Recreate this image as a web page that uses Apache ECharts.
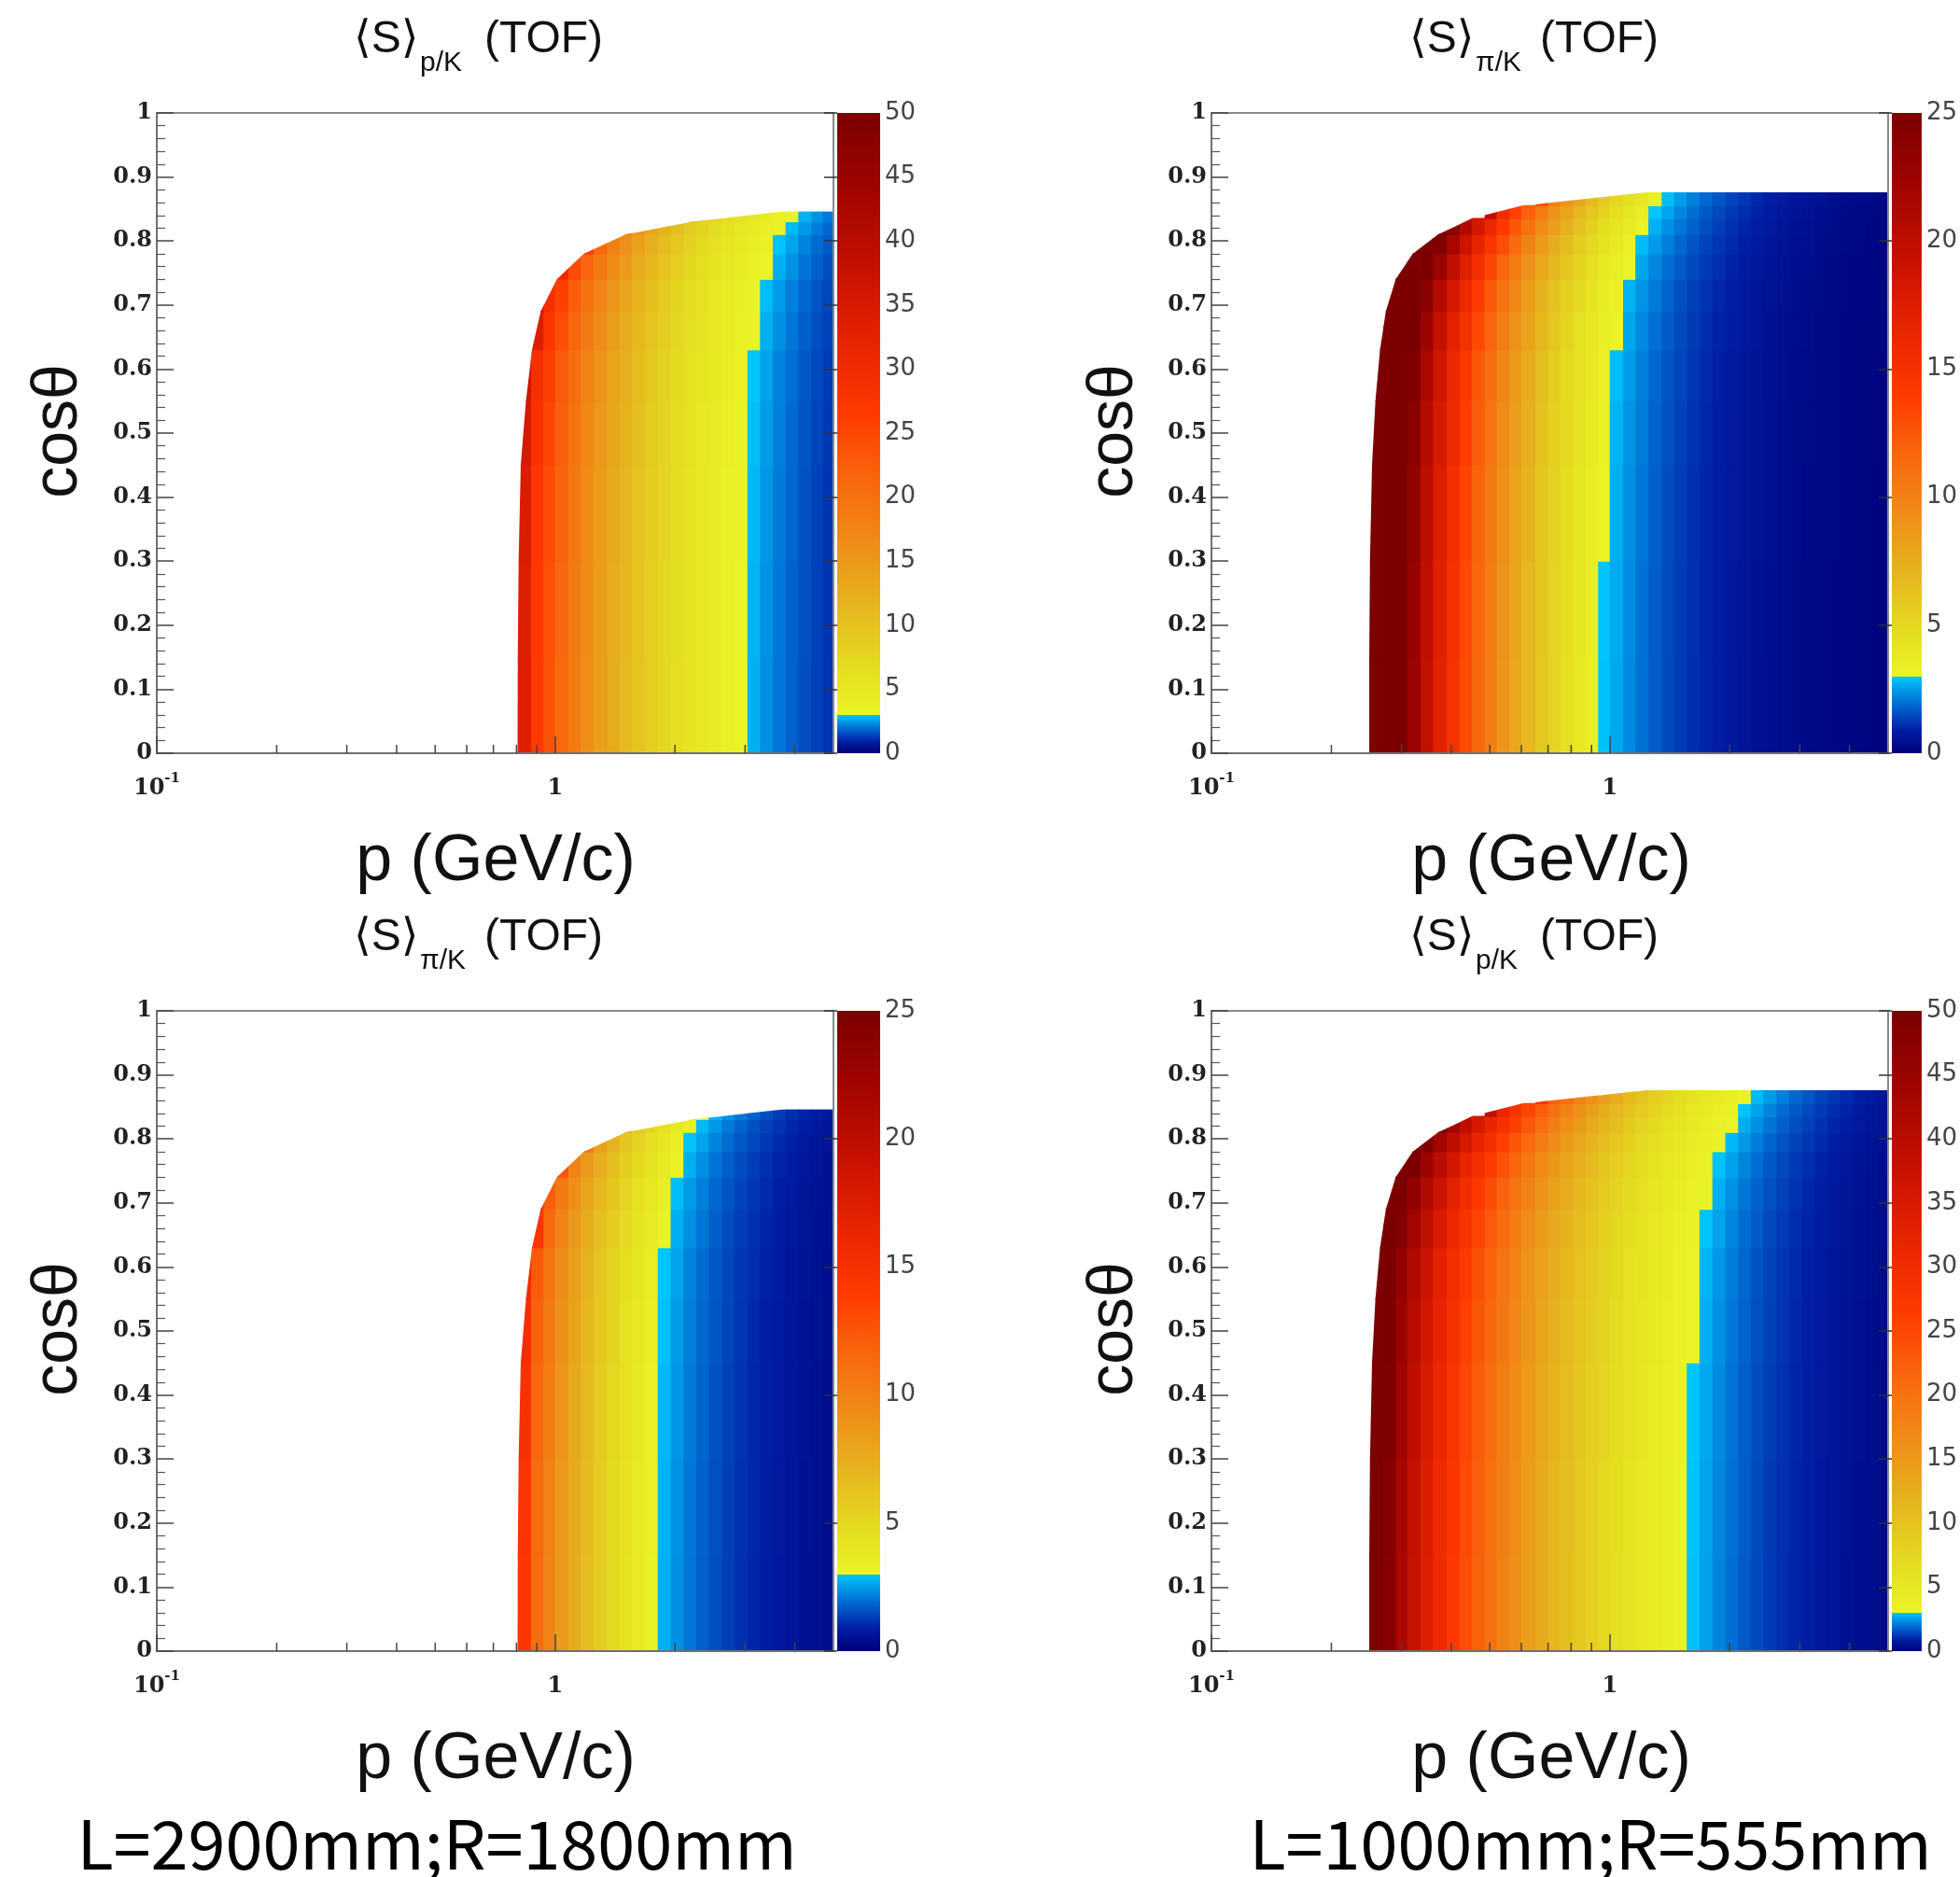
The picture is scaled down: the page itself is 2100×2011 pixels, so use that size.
<!DOCTYPE html>
<html><head><meta charset="utf-8">
<script src="https://cdn.jsdelivr.net/npm/echarts@6/dist/echarts.min.js"></script>
<style>html,body{margin:0;padding:0;background:#fff}#c{width:2100px;height:2011px}</style>
</head><body><div id="c"></div>
<script>
// ---- bin edges (p in GeV/c, cos theta) ----
const pEdgesL = [0.805,0.87,0.935,1.0,1.08,1.16,1.25,1.35,1.45,1.56,1.68,1.81,1.95,2.1,2.26,2.43,2.62,2.82,3.04,3.27,3.52,3.79,4.08,4.4,4.7,5.0];
const pEdgesR = [0.249,0.27,0.29,0.31,0.335,0.36,0.39,0.42,0.45,0.485,0.52,0.56,0.6,0.65,0.7,0.75,0.81,0.87,0.935,1.0,1.08,1.16,1.25,1.35,1.45,1.56,1.68,1.81,1.95,2.1,2.26,2.43,2.62,2.82,3.04,3.27,3.52,3.79,4.08,4.4,4.7,5.0];
const cosEdgesL = [0,0.15,0.3,0.45,0.55,0.63,0.69,0.74,0.78,0.81,0.83,0.845];
const cosEdgesR = [0,0.15,0.3,0.45,0.55,0.63,0.69,0.74,0.78,0.81,0.835,0.855,0.875];
// acceptance boundary: lowest p reaching the TOF, read at each cos edge
const edgePL = [0.805,0.806,0.81,0.82,0.845,0.875,0.92,1.01,1.18,1.5,2.2,3.6];
const edgePR = [0.249,0.249,0.25,0.253,0.258,0.265,0.274,0.29,0.32,0.37,0.45,0.6,1.2];

// ---- separation power <S>, rows = cos bins (bottom->top), cols = p bins ----
const S_TL = [
[33.6,26.6,23.8,21.1,18.6,16.4,14.4,12.6,11.1,9.7,8.5,7.4,6.4,5.6,4.85,4.2,3.6,3.16,2.74,2.37,2.05,1.78,1.53,1.33,1.17],
[33.9,26.9,24.0,21.3,18.8,16.6,14.5,12.7,11.2,9.8,8.5,7.4,6.5,5.6,4.9,4.3,3.7,3.19,2.77,2.39,2.07,1.8,1.55,1.34,1.18],
[34.6,27.4,24.5,21.7,19.2,16.9,14.8,13.0,11.4,10.0,8.7,7.6,6.6,5.7,5.0,4.3,3.7,3.25,2.82,2.44,2.11,1.83,1.58,1.37,1.2],
[35.6,28.2,25.2,22.4,19.7,17.4,15.3,13.4,11.8,10.3,9.0,7.8,6.8,5.9,5.1,4.5,3.9,3.35,2.9,2.51,2.17,1.89,1.62,1.41,1.24],
[36.6,29.0,25.9,23.0,20.3,17.9,15.7,13.7,12.1,10.6,9.2,8.0,7.0,6.1,5.3,4.6,4.0,3.44,2.99,2.58,2.23,1.94,1.67,1.45,1.28],
[null,34.3,27.4,24.3,21.4,18.9,16.6,14.5,12.8,11.2,9.7,8.5,7.4,6.4,5.6,4.9,4.2,3.6,3.15,2.73,2.36,2.05,1.76,1.53,1.35],
[null,36.3,29.0,25.7,22.7,20.0,17.6,15.4,13.5,11.8,10.3,9.0,7.8,6.8,5.9,5.1,4.4,3.9,3.34,2.89,2.5,2.17,1.87,1.62,1.43],
[null,null,null,31.2,24.6,21.6,19.0,16.6,14.7,12.8,11.2,9.7,8.5,7.4,6.4,5.6,4.8,4.2,3.6,3.13,2.71,2.35,2.02,1.76,1.54],
[null,null,null,null,null,26.6,20.9,18.3,16.1,14.1,12.3,10.7,9.3,8.1,7.0,6.1,5.3,4.6,4.0,3.44,2.97,2.58,2.22,1.93,1.7],
[null,null,null,null,null,null,null,null,19.9,15.5,13.5,11.8,10.3,8.9,7.8,6.8,5.8,5.1,4.4,3.8,3.28,2.85,2.45,2.13,1.87],
[null,null,null,null,null,null,null,null,null,null,null,null,null,11.2,8.7,7.6,6.6,5.7,4.9,4.3,3.7,3.2,2.75,2.39,2.11]
];
const S_BL = [
[14.5,11.3,9.9,8.6,7.5,6.5,5.6,4.9,4.2,3.7,3.18,2.75,2.37,2.05,1.77,1.53,1.32,1.14,0.99,0.85,0.73,0.63,0.54,0.47,0.42],
[14.7,11.4,10.0,8.7,7.6,6.6,5.7,4.9,4.3,3.7,3.21,2.78,2.39,2.07,1.79,1.55,1.33,1.15,1.0,0.86,0.74,0.64,0.55,0.47,0.42],
[15.0,11.6,10.2,8.9,7.7,6.7,5.8,5.0,4.4,3.8,3.28,2.83,2.44,2.11,1.82,1.58,1.36,1.17,1.02,0.88,0.75,0.65,0.56,0.48,0.43],
[15.4,11.9,10.5,9.1,8.0,6.9,6.0,5.2,4.5,3.9,3.37,2.92,2.51,2.17,1.88,1.62,1.4,1.21,1.05,0.9,0.77,0.67,0.57,0.5,0.44],
[15.8,12.3,10.8,9.4,8.2,7.1,6.1,5.3,4.6,4.0,3.47,2.99,2.58,2.23,1.93,1.67,1.44,1.24,1.08,0.93,0.8,0.69,0.59,0.51,0.45],
[null,14.5,11.4,9.9,8.6,7.5,6.5,5.6,4.9,4.2,3.66,3.16,2.73,2.36,2.04,1.76,1.52,1.31,1.14,0.98,0.84,0.72,0.62,0.54,0.48],
[null,15.4,12.1,10.5,9.2,7.9,6.9,6.0,5.2,4.5,3.88,3.36,2.89,2.5,2.16,1.87,1.61,1.39,1.21,1.04,0.89,0.77,0.66,0.57,0.51],
[null,null,null,12.7,9.9,8.6,7.4,6.4,5.6,4.8,4.2,3.63,3.13,2.71,2.34,2.02,1.74,1.5,1.31,1.12,0.96,0.83,0.71,0.62,0.55],
[null,null,null,null,null,10.6,8.2,7.1,6.1,5.3,4.6,4.0,3.44,2.97,2.57,2.22,1.91,1.65,1.44,1.23,1.06,0.91,0.78,0.68,0.6],
[null,null,null,null,null,null,null,null,7.6,5.9,5.1,4.4,3.8,3.28,2.83,2.45,2.11,1.82,1.58,1.36,1.17,1.01,0.86,0.75,0.66],
[null,null,null,null,null,null,null,null,null,null,null,null,null,4.1,3.19,2.75,2.38,2.05,1.78,1.53,1.31,1.13,0.97,0.85,0.75]
];
const S_TR = [
[34,29.8,25.8,22.6,19.6,17.1,14.9,13.1,11.5,10.2,8.9,7.8,6.9,5.9,5.2,4.5,3.95,3.45,2.95,2.63,2.29,1.98,1.71,1.48,1.28,1.11,0.96,0.83,0.72,0.62,0.54,0.46,0.4,0.34,0.3,0.26,0.22,0.19,0.17,0.14,0.13],
[34.3,30.1,26.1,22.8,19.8,17.2,15.0,13.2,11.6,10.3,9.0,7.9,6.9,6.0,5.3,4.6,4.0,3.48,2.98,2.66,2.31,2.0,1.73,1.49,1.29,1.12,0.97,0.84,0.73,0.63,0.55,0.46,0.4,0.34,0.3,0.26,0.22,0.19,0.17,0.14,0.13],
[35,30.7,26.6,23.3,20.2,17.6,15.3,13.5,11.8,10.5,9.2,8.1,7.1,6.1,5.4,4.7,4.1,3.55,3.04,2.71,2.36,2.04,1.76,1.52,1.32,1.14,0.99,0.85,0.74,0.64,0.56,0.47,0.41,0.35,0.31,0.27,0.23,0.2,0.18,0.14,0.13],
[36,31.6,27.3,24.0,20.8,18.1,15.8,13.9,12.2,10.8,9.4,8.3,7.3,6.3,5.5,4.8,4.2,3.66,3.13,2.79,2.43,2.1,1.81,1.57,1.36,1.18,1.02,0.88,0.76,0.66,0.57,0.49,0.42,0.36,0.32,0.28,0.23,0.2,0.18,0.15,0.14],
[37,32.5,28.1,24.6,21.4,18.6,16.2,14.3,12.5,11.1,9.7,8.5,7.5,6.5,5.7,4.9,4.3,3.76,3.22,2.87,2.5,2.16,1.86,1.61,1.4,1.21,1.05,0.9,0.78,0.68,0.59,0.5,0.44,0.37,0.33,0.28,0.24,0.21,0.19,0.15,0.14],
[39,34.3,29.7,26.0,22.5,19.6,17.1,15.1,13.2,11.7,10.2,9.0,7.9,6.8,6.0,5.2,4.5,3.97,3.39,3.02,2.63,2.28,1.97,1.7,1.47,1.28,1.1,0.95,0.83,0.71,0.62,0.53,0.46,0.39,0.35,0.3,0.25,0.22,0.2,0.16,0.15],
[null,36.4,31.5,27.6,23.9,20.8,18.2,16.0,14.0,12.4,10.9,9.6,8.4,7.2,6.3,5.5,4.8,4.2,3.6,3.21,2.79,2.42,2.09,1.81,1.56,1.35,1.17,1.01,0.88,0.76,0.66,0.56,0.49,0.41,0.37,0.32,0.27,0.23,0.21,0.17,0.16],
[null,null,34.1,29.8,25.9,22.5,19.7,17.3,15.2,13.4,11.7,10.3,9.0,7.8,6.9,6.0,5.2,4.6,3.9,3.47,3.02,2.61,2.26,1.95,1.69,1.47,1.27,1.1,0.95,0.82,0.71,0.61,0.53,0.45,0.4,0.34,0.29,0.25,0.22,0.18,0.17],
[null,null,null,32.8,28.4,24.7,21.6,19.0,16.7,14.7,12.9,11.4,9.9,8.6,7.5,6.6,5.7,5.0,4.3,3.81,3.32,2.87,2.48,2.15,1.86,1.61,1.39,1.2,1.04,0.9,0.78,0.67,0.58,0.49,0.44,0.38,0.32,0.28,0.25,0.2,0.19],
[null,null,null,null,null,30.6,23.8,21.0,18.4,16.2,14.2,12.5,11.0,9.5,8.3,7.3,6.3,5.5,4.7,4.2,3.66,3.17,2.74,2.37,2.05,1.78,1.54,1.33,1.15,0.99,0.86,0.74,0.64,0.54,0.48,0.42,0.35,0.3,0.27,0.22,0.21],
[null,null,null,null,null,null,null,null,null,19.9,15.6,13.7,12.0,10.4,9.1,7.9,6.9,6.0,5.2,4.6,4.0,3.47,2.99,2.59,2.24,1.94,1.68,1.45,1.26,1.09,0.95,0.8,0.7,0.6,0.53,0.46,0.39,0.33,0.3,0.25,0.23],
[null,null,null,null,null,null,null,null,null,null,null,null,null,13.0,10.1,8.9,7.7,6.7,5.8,5.1,4.5,3.86,3.33,2.89,2.5,2.16,1.87,1.62,1.4,1.21,1.05,0.9,0.78,0.66,0.59,0.51,0.43,0.37,0.33,0.27,0.25]
];
const S_BR = [
[55,48.1,42.6,38.0,33.9,30.3,27.1,24.5,22.2,20.0,18.0,16.2,14.5,12.9,11.5,10.3,9.2,8.2,7.3,6.4,5.7,5.0,4.4,3.8,3.36,2.94,2.57,2.24,1.95,1.69,1.47,1.27,1.1,0.96,0.83,0.72,0.62,0.54,0.46,0.4,0.35],
[55.6,48.6,43.0,38.4,34.2,30.6,27.4,24.7,22.4,20.2,18.2,16.4,14.6,13.0,11.6,10.4,9.3,8.2,7.3,6.5,5.7,5.1,4.4,3.9,3.39,2.97,2.6,2.26,1.97,1.71,1.48,1.28,1.11,0.97,0.84,0.73,0.63,0.55,0.46,0.4,0.35],
[56.7,49.5,43.9,39.1,34.9,31.2,27.9,25.2,22.9,20.6,18.5,16.7,14.9,13.3,11.8,10.6,9.4,8.4,7.5,6.6,5.9,5.2,4.5,3.9,3.46,2.99,2.65,2.31,2.01,1.74,1.51,1.31,1.13,0.99,0.85,0.74,0.64,0.56,0.47,0.41,0.36],
[58.3,51.0,45.2,40.3,35.9,32.1,28.7,26.0,23.5,21.2,19.1,17.2,15.4,13.7,12.2,10.9,9.7,8.6,7.7,6.8,6.0,5.3,4.6,4.1,3.56,3.12,2.72,2.37,2.07,1.79,1.56,1.35,1.17,1.02,0.88,0.76,0.66,0.57,0.49,0.42,0.37],
[60,52.4,46.4,41.4,37.0,33.0,29.5,26.7,24.2,21.8,19.6,17.7,15.8,14.1,12.5,11.2,10.0,8.9,7.9,7.0,6.2,5.5,4.8,4.2,3.66,3.2,2.8,2.44,2.13,1.84,1.6,1.38,1.2,1.05,0.9,0.78,0.68,0.59,0.5,0.44,0.38],
[63,55.3,49.0,43.7,39.0,34.8,31.2,28.2,25.5,23.0,20.7,18.6,16.7,14.8,13.2,11.8,10.5,9.4,8.4,7.4,6.5,5.8,5.0,4.4,3.86,3.38,2.96,2.58,2.24,1.94,1.69,1.46,1.27,1.1,0.95,0.83,0.71,0.62,0.53,0.46,0.4],
[null,58.7,52.0,46.4,41.4,37.0,33.1,29.9,27.1,24.4,22.0,19.8,17.7,15.7,14.0,12.6,11.2,9.9,8.9,7.9,6.9,6.1,5.3,4.7,4.1,3.59,3.14,2.73,2.38,2.06,1.79,1.55,1.34,1.17,1.01,0.88,0.76,0.66,0.56,0.49,0.43],
[null,null,56.2,50.2,44.7,40.0,35.8,32.3,29.3,26.4,23.8,21.4,19.1,17.0,15.2,13.6,12.1,10.8,9.6,8.5,7.5,6.6,5.8,5.1,4.4,3.88,3.39,2.96,2.57,2.23,1.94,1.68,1.45,1.27,1.1,0.95,0.82,0.71,0.61,0.53,0.46],
[null,null,null,55.1,49.2,43.9,39.3,35.5,32.2,29.0,26.1,23.5,21.0,18.7,16.7,14.9,13.3,11.8,10.5,9.3,8.2,7.3,6.4,5.6,4.9,4.3,3.73,3.25,2.83,2.45,2.13,1.84,1.6,1.39,1.2,1.04,0.9,0.78,0.67,0.58,0.51],
[null,null,null,null,null,54.3,43.4,39.2,35.5,32.0,28.8,25.9,23.2,20.6,18.4,16.5,14.7,13.0,11.6,10.3,9.1,8.0,7.0,6.1,5.4,4.7,4.1,3.58,3.12,2.7,2.35,2.03,1.76,1.54,1.33,1.15,0.99,0.86,0.74,0.64,0.56],
[null,null,null,null,null,null,null,null,null,39.2,31.5,28.4,25.4,22.6,20.1,18.0,16.0,14.3,12.7,11.3,9.9,8.8,7.7,6.7,5.9,5.1,4.5,3.92,3.41,2.96,2.57,2.22,1.93,1.68,1.45,1.26,1.09,0.95,0.81,0.7,0.61],
[null,null,null,null,null,null,null,null,null,null,null,null,null,28.2,22.4,20.1,17.9,15.9,14.2,12.6,11.1,9.8,8.5,7.5,6.6,5.7,5.0,4.4,3.8,3.3,2.87,2.48,2.15,1.87,1.62,1.4,1.21,1.05,0.9,0.78,0.68]
];
const zMaxTL = 50, zMaxTR = 25, zMaxBL = 25, zMaxBR = 50;
const colorbarTicks = 5;
const minorTickP = [0.2,0.3,0.4,0.5,0.6,0.7,0.8,0.9,2,3,4];
const subTL = 'p/K', subTR = 'π/K', subBL = 'π/K', subBR = 'p/K';
const footLeft = 'L=2900mm;R=1800mm', footRight = 'L=1000mm;R=555mm';

// ---- palette (style) ----
const SPLIT = 3;
const coldStops = [[0,[0,0,120]],[0.3,[0,30,165]],[0.65,[0,110,212]],[1,[0,198,252]]];
const warmStops = [[0,[234,244,38]],[0.08,[228,220,32]],[0.2,[230,174,30]],[0.3,[240,136,22]],[0.42,[250,92,10]],[0.5,[255,58,0]],[0.62,[232,36,0]],[0.75,[196,16,0]],[0.88,[158,4,0]],[1,[124,0,0]]];
function interp(stops, t){
  t = Math.max(0, Math.min(1, t));
  for (let i=1;i<stops.length;i++){
    if (t <= stops[i][0]){
      const a=stops[i-1], b=stops[i]; const f=(t-a[0])/(b[0]-a[0]||1);
      return 'rgb('+[0,1,2].map(k=>Math.round(a[1][k]+(b[1][k]-a[1][k])*f)).join(',')+')';
    }
  }
  const l=stops[stops.length-1][1]; return 'rgb('+l.join(',')+')';
}
function colorFor(v, max){ return v < SPLIT ? interp(coldStops, v/SPLIT) : interp(warmStops, (v-SPLIT)/(max-SPLIT)); }
function rgbStr(c){ return 'rgb('+c.join(',')+')'; }
function barStops(max){
  const s=[]; const f=SPLIT/max;
  coldStops.forEach(c=>s.push({offset:c[0]*f, color:rgbStr(c[1])}));
  warmStops.forEach(c=>s.push({offset:f+c[0]*(1-f), color:rgbStr(c[1])}));
  return s;
}
// clip a polygon to the half-plane right of the acceptance boundary line
function clipRight(poly, g){
  const out=[];
  for (let i=0;i<poly.length;i++){
    const P=poly[i], Q=poly[(i+1)%poly.length];
    const gp=g(P), gq=g(Q);
    if (gp>=0) out.push(P);
    if ((gp>=0) !== (gq>=0)){
      const t=gp/(gp-gq);
      out.push([P[0]+t*(Q[0]-P[0]), P[1]+t*(Q[1]-P[1])]);
    }
  }
  return out;
}

const W=725, H=686;
const panels = [
  {left:168, top:121, pE:pEdgesL, cE:cosEdgesL, eP:edgePL, S:S_TL, max:zMaxTL, sub:subTL, dx:0, dy:0},
  {left:1298, top:121, pE:pEdgesR, cE:cosEdgesR, eP:edgePR, S:S_TR, max:zMaxTR, sub:subTR, dx:1131, dy:0},
  {left:168, top:1083, pE:pEdgesL, cE:cosEdgesL, eP:edgePL, S:S_BL, max:zMaxBL, sub:subBL, dx:0, dy:962},
  {left:1298, top:1083, pE:pEdgesR, cE:cosEdgesR, eP:edgePR, S:S_BR, max:zMaxBR, sub:subBR, dx:1131, dy:962}
];

const grid=[], xAxis=[], yAxis=[], series=[], graphic=[];
const serif = "'DejaVu Serif','Liberation Serif',serif";
const sans = "'Liberation Sans','DejaVu Sans',sans-serif";
const sansW = "'DejaVu Sans','Liberation Sans',sans-serif";
panels.forEach((P, i) => {
  const gi = 2*i, ci = 2*i+1;
  grid[gi] = {left:P.left, top:P.top, width:W, height:H, show:true, borderColor:'#8a8a8a', borderWidth:2, backgroundColor:'transparent', z:6};
  xAxis[gi] = {type:'log', logBase:10, min:0.1, max:5, gridIndex:gi, z:8,
    axisLine:{show:true, onZero:false, lineStyle:{color:'#707070', width:2}},
    axisTick:{show:true, inside:true, length:18, lineStyle:{color:'#444', width:1.5}},
    splitLine:{show:false}, minorTick:{show:false},
    axisLabel:{margin:20, showMaxLabel:false,
      formatter:v => Math.abs(v-0.1)<1e-6 ? '{b|10}{s|-1}' : (Math.abs(v-1)<1e-6 ? '{b|1}' : ''),
      rich:{b:{fontFamily:serif, fontWeight:'bold', fontSize:24, color:'#222', verticalAlign:'bottom', lineHeight:30},
            s:{fontFamily:serif, fontWeight:'bold', fontSize:15, color:'#222', verticalAlign:'top', lineHeight:30}}}
  };
  yAxis[gi] = {type:'value', min:0, max:1, interval:0.1, gridIndex:gi, z:8,
    axisLine:{show:true, onZero:false, lineStyle:{color:'#707070', width:2}},
    axisTick:{show:true, inside:true, length:18, lineStyle:{color:'#444', width:1.5}},
    minorTick:{show:true, splitNumber:5, length:9, lineStyle:{color:'#555', width:1.2}},
    splitLine:{show:false},
    axisLabel:{margin:5, formatter:v => String(Math.round(v*10)/10), fontFamily:serif, fontWeight:'bold', fontSize:24, color:'#222'}
  };
  // heatmap cells
  const data=[];
  P.S.forEach((row, r) => row.forEach((v, c) => {
    if (v == null) return;
    data.push([P.pE[c], P.pE[c+1], P.cE[r], P.cE[r+1], v, P.eP[r], P.eP[r+1]]);
  }));
  const mx = P.max;
  series.push({type:'custom', xAxisIndex:gi, yAxisIndex:gi, z:2, silent:true, clip:true, animation:false,
    encode:{x:[0,1], y:[2,3]}, data,
    renderItem:(params, api) => {
      const A = api.coord([api.value(0), api.value(2)]);
      const B = api.coord([api.value(1), api.value(3)]);
      const e0 = api.coord([api.value(5), api.value(2)])[0];
      const e1 = api.coord([api.value(6), api.value(3)])[0];
      const yb = A[1], yt = B[1];
      const g = pt => pt[0] - (e0 + (e1-e0)*(yb-pt[1])/(yb-yt));
      let poly = [[A[0], yb+0.5],[B[0]+0.7, yb+0.5],[B[0]+0.7, yt-0.7],[A[0], yt-0.7]];
      poly = clipRight(poly, g);
      if (poly.length < 3) return null;
      return {type:'polygon', shape:{points:poly}, style:{fill:colorFor(api.value(4), mx)}};
    }});
  // minor log ticks on x axis
  series.push({type:'custom', xAxisIndex:gi, yAxisIndex:gi, z:9, silent:true, clip:false, animation:false,
    data:minorTickP.map(v=>[v,0]),
    renderItem:(params, api) => {
      const p = api.coord([api.value(0), 0]);
      return {type:'line', shape:{x1:p[0], y1:p[1], x2:p[0], y2:p[1]-9}, style:{stroke:'#444', lineWidth:1.5}};
    }});
  // colour bar
  grid[ci] = {left:P.left+729, top:P.top, width:46, height:H, show:false};
  xAxis[ci] = {type:'value', min:0, max:1, gridIndex:ci, show:false};
  yAxis[ci] = {type:'value', min:0, max:P.max, interval:colorbarTicks, gridIndex:ci, position:'right', z:8,
    axisLine:{show:false}, splitLine:{show:false},
    axisTick:{show:true, inside:true, length:14, lineStyle:{color:'#333', width:1.5}},
    axisLabel:{margin:5, fontFamily:sansW, fontSize:26, color:'#444'}};
  const stops = barStops(P.max);
  series.push({type:'custom', xAxisIndex:ci, yAxisIndex:ci, z:2, silent:true, animation:false,
    data:[[0,1,0,P.max]],
    renderItem:(params, api) => {
      const a = api.coord([api.value(0), api.value(2)]);
      const b = api.coord([api.value(1), api.value(3)]);
      return {type:'rect', shape:{x:a[0], y:b[1], width:b[0]-a[0], height:a[1]-b[1]},
        style:{fill:new echarts.graphic.LinearGradient(0,1,0,0, stops)}};
    }});
  // texts
  graphic.push({type:'text', x:379+P.dx, y:43+P.dy, style:{text:'⟨S⟩', font:'48px '+sans, fill:'#111', textAlign:'left', textVerticalAlign:'middle'}});
  graphic.push({type:'text', x:450+P.dx, y:68+P.dy, style:{text:P.sub, font:'30px '+sans, fill:'#111', textAlign:'left', textVerticalAlign:'middle'}});
  graphic.push({type:'text', x:519+P.dx, y:43+P.dy, style:{text:'(TOF)', font:'48px '+sans, fill:'#111', textAlign:'left', textVerticalAlign:'middle'}});
  graphic.push({type:'text', x:531+P.dx, y:924+P.dy, style:{text:'p (GeV/c)', font:'70px '+sans, fill:'#111', textAlign:'center', textVerticalAlign:'middle'}});
  graphic.push({type:'text', x:63+P.dx, y:462+P.dy, rotation:Math.PI/2, style:{text:'cosθ', font:'68px '+sans, fill:'#111', textAlign:'center', textVerticalAlign:'middle'}});
});
graphic.push({type:'text', x:468, y:1976, style:{text:footLeft, font:"72px 'Noto Sans CJK SC','Liberation Sans',sans-serif", fill:'#000', textAlign:'center', textVerticalAlign:'middle'}});
graphic.push({type:'text', x:1704, y:1976, style:{text:footRight, font:"72px 'Noto Sans CJK SC','Liberation Sans',sans-serif", fill:'#000', textAlign:'center', textVerticalAlign:'middle'}});

const chart = echarts.init(document.getElementById('c'), null, {renderer:'canvas'});
chart.setOption({animation:false, backgroundColor:'#fff', grid, xAxis, yAxis, series, graphic});
</script></body></html>
